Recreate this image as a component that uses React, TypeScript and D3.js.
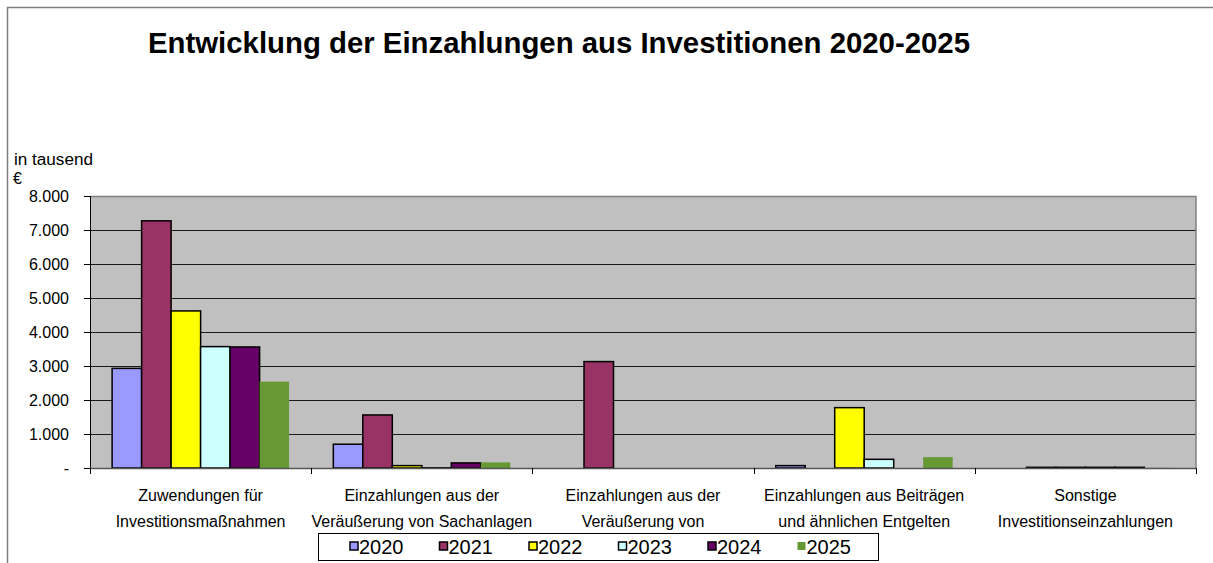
import React from "react";
import * as d3 from "d3";

const categories: string[][] = [
  ["Zuwendungen für", "Investitionsmaßnahmen"],
  ["Einzahlungen aus der", "Veräußerung von Sachanlagen"],
  ["Einzahlungen aus der", "Veräußerung von"],
  ["Einzahlungen aus Beiträgen", "und ähnlichen Entgelten"],
  ["Sonstige", "Investitionseinzahlungen"],
];
const years = ["2020", "2021", "2022", "2023", "2024", "2025"];
const v2020 = [2930, 700, 0, 70, 0];
const v2021 = [7270, 1560, 3130, 0, 20];
const v2022 = [4620, 70, 0, 1775, 20];
const v2023 = [3570, 5, 0, 255, 20];
const v2024 = [3560, 150, 0, 0, 20];
const v2025 = [2540, 165, 0, 320, 5];
const seriesValues = [v2020, v2021, v2022, v2023, v2024, v2025];
const colors = ["#9999FF", "#993366", "#FFFF00", "#CCFFFF", "#660066", "#669933"];
const yTicks = [0, 1000, 2000, 3000, 4000, 5000, 6000, 7000, 8000];

const W = 1213, H = 563;
const L = 90, R = 1196, T = 196, B = 468;

export default function App() {
  const x0 = d3.scaleBand<number>().domain(d3.range(categories.length)).range([L, R]).paddingInner(0).paddingOuter(0);
  const bw = x0.bandwidth();
  const pad = bw * 0.1;
  const x1 = d3.scaleBand<number>().domain(d3.range(years.length)).range([pad, bw - pad]);
  const y = d3.scaleLinear().domain([0, 8000]).range([B, T]);
  const fmt = (v: number) => (v === 0 ? "-" : d3.format(",")(v).replace(/,/g, "."));
  const font = "Arial, 'Liberation Sans', sans-serif";

  return (
    <div style={{ position: "absolute", left: 0, top: 0 }}>
      <svg width={W} height={H} style={{ display: "block", fontFamily: font }}>
        <rect x={0} y={0} width={W} height={H} fill="#fff" />
        {/* outer frame */}
        <line x1={7} y1={7.5} x2={W} y2={7.5} stroke="#808080" strokeWidth={1.5} />
        <line x1={7.5} y1={7} x2={7.5} y2={H} stroke="#808080" strokeWidth={1.5} />
        <text x={148} y={53} fontSize={30} fontWeight="bold" fill="#000" textLength={822} lengthAdjust="spacingAndGlyphs">
          Entwicklung der Einzahlungen aus Investitionen 2020-2025
        </text>
        <text x={14} y={165} fontSize={16} textLength={79} lengthAdjust="spacingAndGlyphs">in tausend</text>
        <text x={13} y={184} fontSize={16}>€</text>
        {/* plot area */}
        <rect x={L} y={T} width={R - L} height={B - T} fill="#C0C0C0" />
        {yTicks.slice(1, -1).map((t) => (
          <line key={t} x1={L} x2={R} y1={Math.round(y(t)) + 0.5} y2={Math.round(y(t)) + 0.5} stroke="#1a1a1a" strokeWidth={1} />
        ))}
        <line x1={L} x2={R} y1={T + 0.5} y2={T + 0.5} stroke="#808080" strokeWidth={1.5} />
        <line x1={R} x2={R} y1={T} y2={B} stroke="#808080" strokeWidth={1.5} />
        {/* bars */}
        {seriesValues.map((vals, s) =>
          vals.map((v, c) => {
            const bx = (x0(c) as number) + (x1(s) as number);
            const by = y(v);
            const noBorder = s === 5;
            return (
              <rect
                key={`${s}-${c}`}
                x={bx}
                y={by}
                width={x1.bandwidth()}
                height={Math.max(0, B - by)}
                fill={colors[s]}
                stroke={noBorder ? "none" : "#000"}
                strokeWidth={noBorder ? 0 : 1.5}
              />
            );
          })
        )}
        {/* y axis */}
        <line x1={L + 0.5} x2={L + 0.5} y1={T} y2={B} stroke="#000" strokeWidth={1} />
        {yTicks.map((t) => (
          <g key={t}>
            <line x1={L - 6} x2={L} y1={Math.round(y(t)) + 0.5} y2={Math.round(y(t)) + 0.5} stroke="#000" />
            <text x={69} y={y(t) + 6} fontSize={16} textAnchor="end">{fmt(t)}</text>
          </g>
        ))}
        {/* x axis */}
        <line x1={L} x2={R} y1={B + 0.5} y2={B + 0.5} stroke="#555" strokeWidth={1.5} />
        {d3.range(categories.length + 1).map((i) => {
          const xx = Math.round(L + i * bw) + 0.5;
          return <line key={i} x1={xx} x2={xx} y1={B} y2={B + 6} stroke="#000" />;
        })}
        {categories.map((lines, c) => (
          <text key={c} x={(x0(c) as number) + bw / 2} y={501} fontSize={16} textAnchor="middle">
            {lines.map((ln, i) => (
              <tspan key={i} x={(x0(c) as number) + bw / 2} dy={i === 0 ? 0 : 26}>{ln}</tspan>
            ))}
          </text>
        ))}
        {/* legend */}
        <rect x={318.5} y={533.5} width={560} height={27} fill="#fff" stroke="#000" strokeWidth={1} />
        {years.map((yr, i) => {
          const lx = 350 + i * 89.5;
          return (
            <g key={yr}>
              <rect x={lx} y={542} width={8} height={8} fill={colors[i]} stroke={i === 5 ? "none" : "#000"} strokeWidth={1.5} />
              <text x={lx + 9} y={554} fontSize={20}>{yr}</text>
            </g>
          );
        })}
      </svg>
    </div>
  );
}
